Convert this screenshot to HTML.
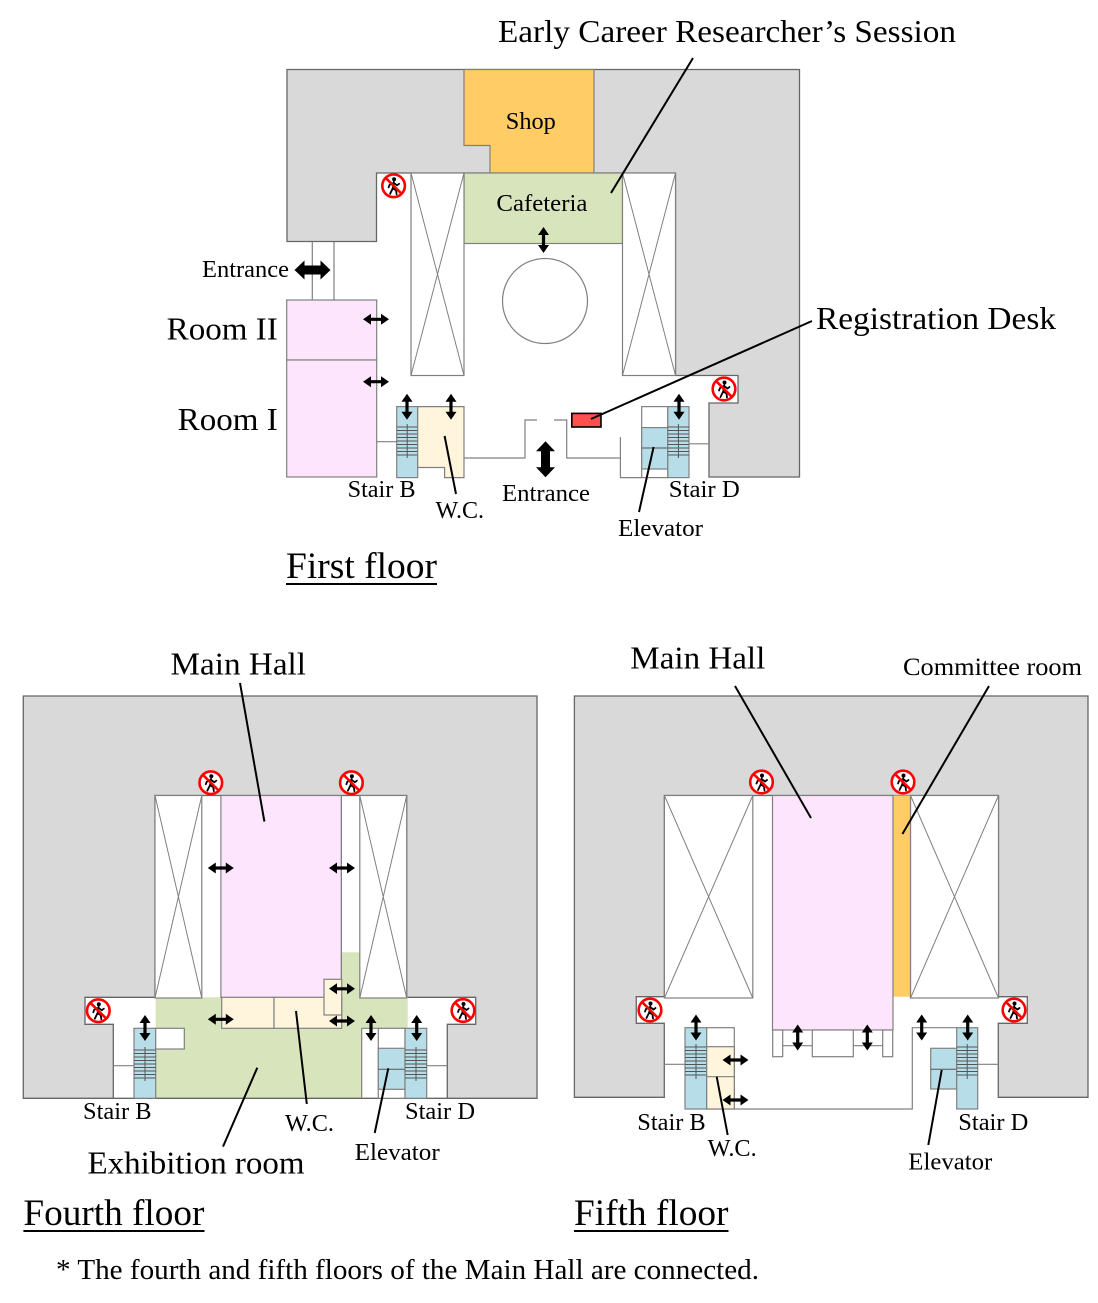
<!DOCTYPE html>
<html>
<head>
<meta charset="utf-8">
<style>
html,body{margin:0;padding:0;background:#fff;}
svg{display:block;}
text{font-family:"Liberation Serif","Times New Roman",serif;fill:#000;}
</style>
</head>
<body>
<svg width="1098" height="1303" viewBox="0 0 1098 1303" xmlns="http://www.w3.org/2000/svg">
<defs>
  <path id="ah" d="M-13,0 L-5,-5.5 L-5,-1.6 L5,-1.6 L5,-5.5 L13,0 L5,5.5 L5,1.6 L-5,1.6 L-5,5.5 Z" fill="#000"/>
  <path id="AH" d="M-18,0 L-8,-9.5 L-8,-4.5 L8,-4.5 L8,-9.5 L18,0 L8,9.5 L8,4.5 L-8,4.5 L-8,9.5 Z" fill="#000"/>
  <g id="nw">
    <circle cx="0" cy="0" r="11.3" fill="#fff" stroke="#ff0000" stroke-width="2.6"/>
    <circle cx="0.5" cy="-6.5" r="2" fill="#000"/>
    <path d="M0.3,-4 L-0.8,2.5 M-0.8,2.5 L-3.5,8 M-0.8,2.5 L2.5,4.5 L3,8.5 M0,-3 L-4,-1 L-5,1.5 M0,-3 L3.5,-0.5 L5.5,-2" stroke="#000" stroke-width="1.8" fill="none" stroke-linecap="round"/>
    <line x1="-7.8" y1="-7.8" x2="7.8" y2="7.8" stroke="#ff0000" stroke-width="2.6"/>
  </g>
</defs>

<!-- ================= FIRST FLOOR ================= -->
<polygon points="287,69.5 799.5,69.5 799.5,477 709,477 709,403 738,403 738,375.5 675.5,375.5 675.5,173 376.5,173 376.5,241.5 287,241.5" fill="#d9d9d9" stroke="#666" stroke-width="1.3"/>
<polygon points="464,69.5 594,69.5 594,173 490,173 490,145.5 464,145.5" fill="#ffcc66" stroke="#808080" stroke-width="1.2"/>
<rect x="464" y="173" width="158.5" height="70.5" fill="#d8e4bc" stroke="#808080" stroke-width="1.2"/>
<rect x="411" y="173" width="53" height="202.5" fill="#fff" stroke="#808080" stroke-width="1.2"/>
<path d="M411,173 L464,375.5 M464,173 L411,375.5" stroke="#808080" stroke-width="1" fill="none"/>
<rect x="622.5" y="173" width="53" height="202.5" fill="#fff" stroke="#808080" stroke-width="1.2"/>
<path d="M622.5,173 L675.5,375.5 M675.5,173 L622.5,375.5" stroke="#808080" stroke-width="1" fill="none"/>
<circle cx="545" cy="301" r="42.5" fill="none" stroke="#808080" stroke-width="1.2"/>
<!-- left entrance lines -->
<path d="M312.3,241.5 V300 M334,241.5 V300" stroke="#808080" stroke-width="1.2"/>
<!-- rooms -->
<rect x="286.7" y="300" width="90" height="60" fill="#fde5fe" stroke="#808080" stroke-width="1.2"/>
<rect x="286.7" y="360" width="90" height="117" fill="#fde5fe" stroke="#808080" stroke-width="1.2"/>
<!-- walls -->
<path d="M376.7,441.7 H396.7 M464,458 H525 V420 H537 M554,420 H566.7 V458 H620.4 M620.4,437 V477.6 H641.7 M689,443.8 H709" stroke="#808080" stroke-width="1.2" fill="none"/>
<!-- stair B -->
<rect x="396.7" y="406.6" width="21" height="71" fill="#b7dee8" stroke="#808080" stroke-width="1.2"/>
<path d="M396.7,427H417.7M396.7,430.5H417.7M396.7,434H417.7M396.7,437.5H417.7M396.7,441H417.7M396.7,444.5H417.7M396.7,448H417.7M396.7,451.5H417.7M396.7,455H417.7M407.2,424V458" stroke="#555" stroke-width="1" fill="none"/>
<!-- WC -->
<polygon points="417.7,406.6 464,406.6 464,477.6 444.6,477.6 444.6,467.5 417.7,467.5" fill="#fef5dc" stroke="#808080" stroke-width="1.2"/>
<!-- elevator -->
<rect x="641.7" y="406.6" width="26.1" height="71" fill="#fff" stroke="#808080" stroke-width="1.2"/>
<rect x="641.7" y="427.6" width="26.1" height="41.4" fill="#b7dee8" stroke="#808080" stroke-width="1.2"/>
<line x1="641.7" y1="448" x2="667.8" y2="448" stroke="#555" stroke-width="1"/>
<!-- stair D -->
<rect x="667.8" y="406.6" width="21.2" height="71" fill="#b7dee8" stroke="#808080" stroke-width="1.2"/>
<path d="M667.8,427H689M667.8,430.5H689M667.8,434H689M667.8,437.5H689M667.8,441H689M667.8,444.5H689M667.8,448H689M667.8,451.5H689M667.8,455H689M678.4,424V458" stroke="#555" stroke-width="1" fill="none"/>
<!-- desk -->
<rect x="571.8" y="413.4" width="29.2" height="13.6" fill="#ff5050" stroke="#000" stroke-width="1.6"/>
<!-- arrows -->
<use href="#ah" transform="translate(543.5,240) rotate(90)"/>
<use href="#ah" transform="translate(376,319.3)"/>
<use href="#ah" transform="translate(376,381.7)"/>
<use href="#ah" transform="translate(407,406.8) rotate(90)"/>
<use href="#ah" transform="translate(451,406.8) rotate(90)"/>
<use href="#ah" transform="translate(679,406.8) rotate(90)"/>
<use href="#AH" transform="translate(312.5,270)"/>
<use href="#AH" transform="translate(545.5,459.3) rotate(90)"/>
<!-- icons -->
<use href="#nw" transform="translate(393.6,185.8)"/>
<use href="#nw" transform="translate(724,389)"/>
<!-- leaders -->
<path d="M693,58 L611,193 M812,321 L591,419 M444.6,436 L456,494 M653.6,447 L639,512" stroke="#000" stroke-width="2" fill="none"/>
<!-- labels -->
<text x="498" y="42" font-size="32" textLength="458" lengthAdjust="spacingAndGlyphs">Early Career Researcher’s Session</text>
<text x="505.8" y="129" font-size="24" textLength="50" lengthAdjust="spacingAndGlyphs">Shop</text>
<text x="496.4" y="211" font-size="24" textLength="91" lengthAdjust="spacingAndGlyphs">Cafeteria</text>
<text x="202" y="277" font-size="24" textLength="87" lengthAdjust="spacingAndGlyphs">Entrance</text>
<text x="166.7" y="339.3" font-size="32" textLength="111" lengthAdjust="spacingAndGlyphs">Room II</text>
<text x="177.7" y="430" font-size="32" textLength="100" lengthAdjust="spacingAndGlyphs">Room I</text>
<text x="816" y="329" font-size="32" textLength="240" lengthAdjust="spacingAndGlyphs">Registration Desk</text>
<text x="347.6" y="497" font-size="24" textLength="68" lengthAdjust="spacingAndGlyphs">Stair B</text>
<text x="435.5" y="518" font-size="24" textLength="48.5" lengthAdjust="spacingAndGlyphs">W.C.</text>
<text x="502" y="501" font-size="24" textLength="88" lengthAdjust="spacingAndGlyphs">Entrance</text>
<text x="668.8" y="497" font-size="24" textLength="71" lengthAdjust="spacingAndGlyphs">Stair D</text>
<text x="618" y="536" font-size="24" textLength="85" lengthAdjust="spacingAndGlyphs">Elevator</text>
<text x="286" y="578" font-size="37" textLength="151" lengthAdjust="spacingAndGlyphs">First floor</text>
<line x1="286" y1="584" x2="437" y2="584" stroke="#000" stroke-width="2"/>

<!-- ================= FOURTH FLOOR ================= -->
<polygon points="23.3,696 537,696 537,1098.3 447.3,1098.3 447.3,1024.3 475.7,1024.3 475.7,997.3 406.7,997.3 406.7,795.5 155,795.5 155,997.3 85,997.3 85,1024.3 113.3,1024.3 113.3,1098.3 23.3,1098.3" fill="#d9d9d9" stroke="#666" stroke-width="1.3"/>
<!-- green -->
<polygon points="155.7,997.3 407.7,997.3 407.7,1028.3 361.7,1028.3 361.7,1098.3 155.7,1098.3" fill="#d8e4bc"/>
<rect x="341.4" y="952.3" width="18.4" height="46" fill="#d8e4bc"/>
<line x1="113.3" y1="1098.3" x2="447.3" y2="1098.3" stroke="#666" stroke-width="1.3"/>
<!-- X boxes -->
<rect x="155" y="795.5" width="46.8" height="202.5" fill="#fff" stroke="#808080" stroke-width="1.2"/>
<path d="M155,795.5 L201.8,998 M201.8,795.5 L155,998" stroke="#808080" stroke-width="1" fill="none"/>
<rect x="359.8" y="795.5" width="46.9" height="202.5" fill="#fff" stroke="#808080" stroke-width="1.2"/>
<path d="M359.8,795.5 L406.7,998 M406.7,795.5 L359.8,998" stroke="#808080" stroke-width="1" fill="none"/>
<!-- main hall -->
<rect x="220.9" y="795.5" width="120.5" height="202" fill="#fde5fe" stroke="#808080" stroke-width="1.2"/>
<line x1="341.4" y1="795.5" x2="341.4" y2="1028.3" stroke="#808080" stroke-width="1.2"/>
<!-- WC -->
<rect x="221.7" y="997.3" width="52.3" height="31" fill="#fef5dc" stroke="#808080" stroke-width="1.2"/>
<rect x="274" y="997.3" width="67.7" height="31" fill="#fef5dc" stroke="#808080" stroke-width="1.2"/>
<rect x="324" y="979.3" width="17.7" height="35.7" fill="#fef5dc" stroke="#808080" stroke-width="1.2"/>
<!-- stair B -->
<rect x="134" y="1028.3" width="21.7" height="70" fill="#b7dee8" stroke="#808080" stroke-width="1.2"/>
<path d="M134,1050H155.7M134,1053.5H155.7M134,1057H155.7M134,1060.5H155.7M134,1064H155.7M134,1067.5H155.7M134,1071H155.7M134,1074.5H155.7M134,1078H155.7M145,1047V1081" stroke="#555" stroke-width="1" fill="none"/>
<rect x="155.7" y="1028.3" width="28.6" height="20.7" fill="#fff" stroke="#808080" stroke-width="1.2"/>
<path d="M113.3,1065.7 H134 M361.7,1028.3 V1098.3 M361.7,1028.3 H378.3 M426.7,1065.7 H447.3" stroke="#808080" stroke-width="1.2" fill="none"/>
<!-- elevator -->
<rect x="378.3" y="1028.3" width="26.7" height="70" fill="#fff" stroke="#808080" stroke-width="1.2"/>
<rect x="378.3" y="1048.3" width="26.7" height="41" fill="#b7dee8" stroke="#808080" stroke-width="1.2"/>
<line x1="378.3" y1="1069.3" x2="405" y2="1069.3" stroke="#555" stroke-width="1"/>
<!-- stair D -->
<rect x="405" y="1028.3" width="21.7" height="70" fill="#b7dee8" stroke="#808080" stroke-width="1.2"/>
<path d="M405,1050H426.7M405,1053.5H426.7M405,1057H426.7M405,1060.5H426.7M405,1064H426.7M405,1067.5H426.7M405,1071H426.7M405,1074.5H426.7M405,1078H426.7M416,1047V1081" stroke="#555" stroke-width="1" fill="none"/>
<!-- arrows -->
<use href="#ah" transform="translate(220.8,868)"/>
<use href="#ah" transform="translate(342,868)"/>
<use href="#ah" transform="translate(342,988.8)"/>
<use href="#ah" transform="translate(342,1021)"/>
<use href="#ah" transform="translate(220.8,1019.3)"/>
<use href="#ah" transform="translate(145,1028) rotate(90)"/>
<use href="#ah" transform="translate(371,1028) rotate(90)"/>
<use href="#ah" transform="translate(416.7,1028) rotate(90)"/>
<!-- icons -->
<use href="#nw" transform="translate(210.8,782.7)"/>
<use href="#nw" transform="translate(351.4,782.7)"/>
<use href="#nw" transform="translate(98.3,1010.7)"/>
<use href="#nw" transform="translate(463,1010.5)"/>
<!-- leaders -->
<path d="M240,683 L264.4,821.6 M257.3,1067.7 L223,1146.6 M296,1011 L306.8,1104 M388.3,1068.3 L374.7,1133" stroke="#000" stroke-width="2" fill="none"/>
<!-- labels -->
<text x="170.5" y="674.5" font-size="32" textLength="135.5" lengthAdjust="spacingAndGlyphs">Main Hall</text>
<text x="83" y="1119" font-size="24" textLength="68.5" lengthAdjust="spacingAndGlyphs">Stair B</text>
<text x="285" y="1131" font-size="24" textLength="49" lengthAdjust="spacingAndGlyphs">W.C.</text>
<text x="405" y="1119" font-size="24" textLength="70" lengthAdjust="spacingAndGlyphs">Stair D</text>
<text x="354.7" y="1160" font-size="24" textLength="85" lengthAdjust="spacingAndGlyphs">Elevator</text>
<text x="87.5" y="1173.5" font-size="32" textLength="217" lengthAdjust="spacingAndGlyphs">Exhibition room</text>
<text x="23.4" y="1225" font-size="37" textLength="181" lengthAdjust="spacingAndGlyphs">Fourth floor</text>
<line x1="23.4" y1="1231" x2="204.5" y2="1231" stroke="#000" stroke-width="2"/>

<!-- ================= FIFTH FLOOR ================= -->
<polygon points="574.4,696 1088,696 1088,1097.3 998.3,1097.3 998.3,1023.3 1027.3,1023.3 1027.3,996.7 998.5,996.7 998.5,795.5 664.4,795.5 664.4,996.7 636.3,996.7 636.3,1023.3 664.3,1023.3 664.3,1097.3 574.4,1097.3" fill="#d9d9d9" stroke="#666" stroke-width="1.3"/>
<!-- X boxes -->
<rect x="664.4" y="795.5" width="88.4" height="202.5" fill="#fff" stroke="#808080" stroke-width="1.2"/>
<path d="M664.4,795.5 L752.8,998 M752.8,795.5 L664.4,998" stroke="#808080" stroke-width="1" fill="none"/>
<rect x="910.5" y="795.5" width="88" height="202.5" fill="#fff" stroke="#808080" stroke-width="1.2"/>
<path d="M910.5,795.5 L998.5,998 M998.5,795.5 L910.5,998" stroke="#808080" stroke-width="1" fill="none"/>
<!-- committee -->
<rect x="893" y="795.5" width="17.5" height="201.2" fill="#ffcc66"/>
<!-- main hall -->
<rect x="772.5" y="795.5" width="120.5" height="234.5" fill="#fde5fe" stroke="#808080" stroke-width="1.2"/>
<line x1="910.5" y1="795.5" x2="910.5" y2="998" stroke="#808080" stroke-width="1.2"/>
<!-- stage blocks -->
<rect x="772.7" y="1030" width="10" height="26.7" fill="#fff" stroke="#808080" stroke-width="1.2"/>
<rect x="812.3" y="1030" width="41" height="26.7" fill="#fff" stroke="#808080" stroke-width="1.2"/>
<rect x="882.7" y="1030" width="10" height="26.7" fill="#fff" stroke="#808080" stroke-width="1.2"/>
<path d="M782.7,1045.7 H812.3 M853.3,1045.7 H882.7" stroke="#808080" stroke-width="1.2" fill="none"/>
<!-- stair B -->
<rect x="685" y="1027.7" width="21.7" height="81.3" fill="#b7dee8" stroke="#808080" stroke-width="1.2"/>
<path d="M685,1047H706.7M685,1050.5H706.7M685,1054H706.7M685,1057.5H706.7M685,1061H706.7M685,1064.5H706.7M685,1068H706.7M685,1071.5H706.7M685,1075H706.7M696,1044V1079" stroke="#555" stroke-width="1" fill="none"/>
<!-- WC -->
<rect x="706.7" y="1027.7" width="27.6" height="81.3" fill="#fff" stroke="#808080" stroke-width="1.2"/>
<rect x="706.7" y="1046.7" width="27.6" height="62.3" fill="#fef5dc" stroke="#808080" stroke-width="1.2"/>
<line x1="706.7" y1="1076.7" x2="734.3" y2="1076.7" stroke="#808080" stroke-width="1.2"/>
<!-- walls -->
<path d="M664.3,1064.3 H685 M734.3,1109 H912.3 V1027.7 H956.7 M977.7,1064.3 H998.3" stroke="#808080" stroke-width="1.2" fill="none"/>
<!-- elevator -->
<rect x="930.7" y="1048.3" width="26" height="40.7" fill="#b7dee8" stroke="#808080" stroke-width="1.2"/>
<line x1="930.7" y1="1069.3" x2="956.7" y2="1069.3" stroke="#555" stroke-width="1"/>
<!-- stair D -->
<rect x="956.7" y="1027.7" width="21" height="81.3" fill="#b7dee8" stroke="#808080" stroke-width="1.2"/>
<path d="M956.7,1047H977.7M956.7,1050.5H977.7M956.7,1054H977.7M956.7,1057.5H977.7M956.7,1061H977.7M956.7,1064.5H977.7M956.7,1068H977.7M956.7,1071.5H977.7M956.7,1075H977.7M967.2,1044V1079" stroke="#555" stroke-width="1" fill="none"/>
<!-- arrows -->
<use href="#ah" transform="translate(797.7,1037.5) rotate(90)"/>
<use href="#ah" transform="translate(867.3,1037.5) rotate(90)"/>
<use href="#ah" transform="translate(696,1027.5) rotate(90)"/>
<use href="#ah" transform="translate(921.7,1027.5) rotate(90)"/>
<use href="#ah" transform="translate(967.7,1027.5) rotate(90)"/>
<use href="#ah" transform="translate(735.5,1060)"/>
<use href="#ah" transform="translate(735.5,1100)"/>
<!-- icons -->
<use href="#nw" transform="translate(761.5,782)"/>
<use href="#nw" transform="translate(903,782)"/>
<use href="#nw" transform="translate(650,1010)"/>
<use href="#nw" transform="translate(1014,1010)"/>
<!-- leaders -->
<path d="M735,686 L811,818 M989,686 L902.4,834 M716.7,1076.7 L727.7,1135 M941.7,1070 L928.3,1145" stroke="#000" stroke-width="2" fill="none"/>
<!-- labels -->
<text x="630.3" y="668.3" font-size="32" textLength="135" lengthAdjust="spacingAndGlyphs">Main Hall</text>
<text x="903" y="675" font-size="25" textLength="179" lengthAdjust="spacingAndGlyphs">Committee room</text>
<text x="637.3" y="1130" font-size="24" textLength="68.4" lengthAdjust="spacingAndGlyphs">Stair B</text>
<text x="707.7" y="1156" font-size="24" textLength="49" lengthAdjust="spacingAndGlyphs">W.C.</text>
<text x="958.3" y="1130" font-size="24" textLength="70" lengthAdjust="spacingAndGlyphs">Stair D</text>
<text x="908.3" y="1169.3" font-size="24" textLength="84" lengthAdjust="spacingAndGlyphs">Elevator</text>
<text x="574" y="1225" font-size="37" textLength="154.5" lengthAdjust="spacingAndGlyphs">Fifth floor</text>
<line x1="574" y1="1231" x2="728.5" y2="1231" stroke="#000" stroke-width="2"/>

<!-- footnote -->
<text x="56" y="1279" font-size="28" textLength="703" lengthAdjust="spacingAndGlyphs">* The fourth and fifth floors of the Main Hall are connected.</text>
</svg>
</body>
</html>
